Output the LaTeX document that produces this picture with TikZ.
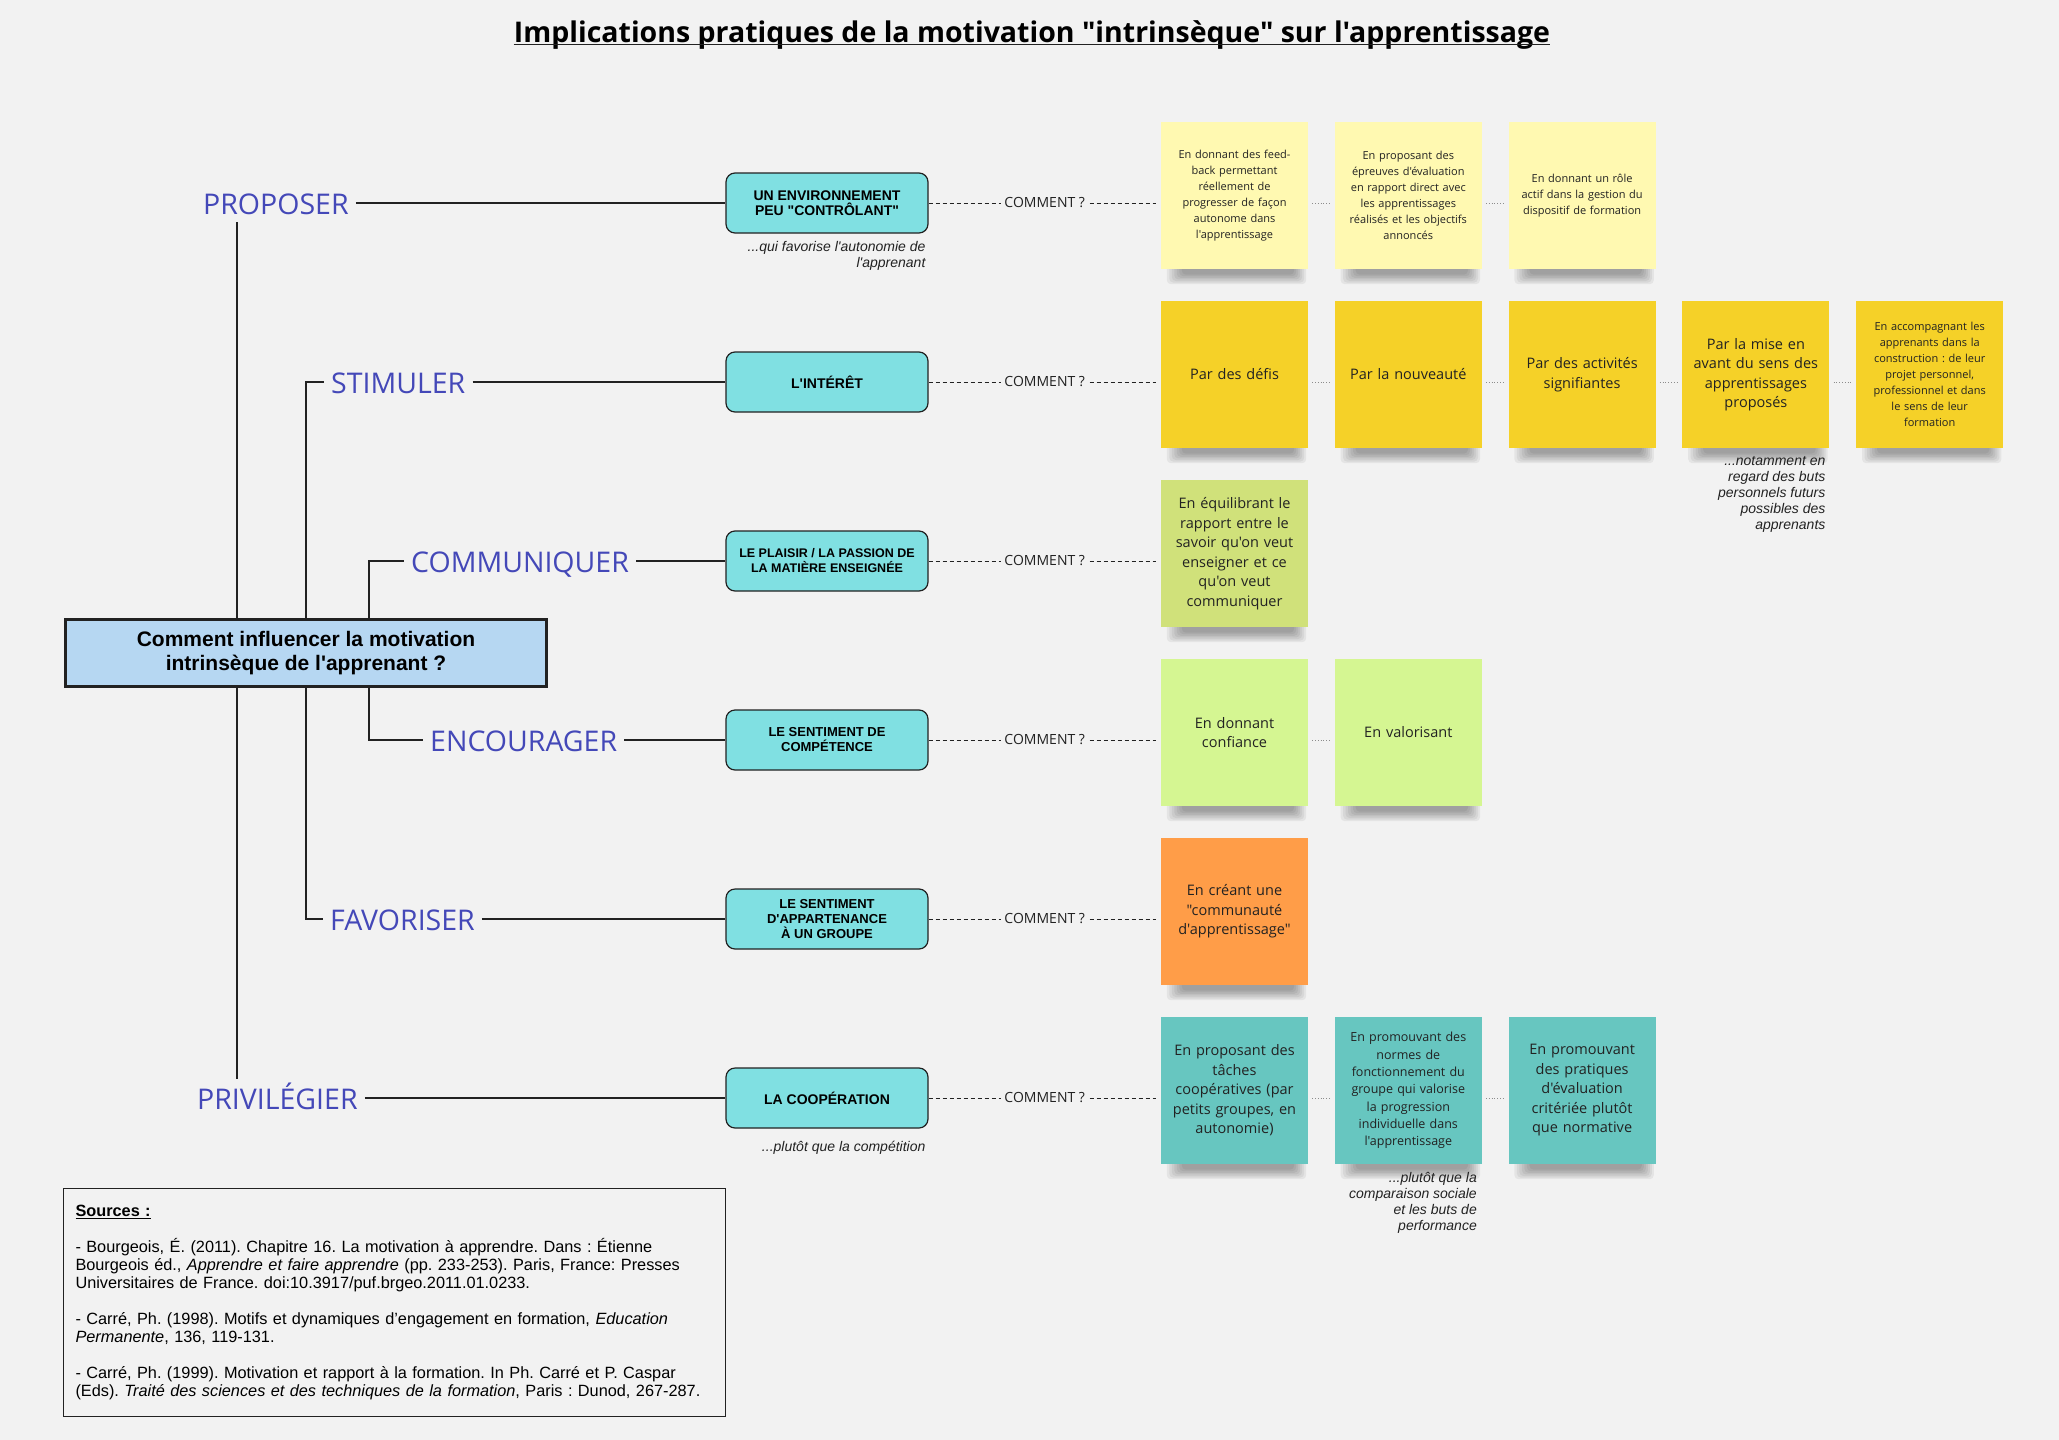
\documentclass[tikz,border=0pt]{standalone}
\usepackage{fontspec}
\setmainfont{Open Sans}[Ligatures=TeXOff]
\newfontfamily\arialfont{Liberation Sans}[Ligatures=TeXOff]
\usetikzlibrary{positioning}

\definecolor{paper}{RGB}{242,242,242}
\definecolor{ink}{RGB}{34,34,34}
\definecolor{verbblue}{RGB}{68,72,184}
\definecolor{themecyan}{RGB}{128,224,226}
\definecolor{questionblue}{RGB}{182,215,242}
\definecolor{notepale}{RGB}{255,249,177}
\definecolor{noteyellow}{RGB}{245,209,40}
\definecolor{notelime}{RGB}{208,225,122}
\definecolor{notegreen}{RGB}{213,246,146}
\definecolor{noteorange}{RGB}{255,157,72}
\definecolor{noteteal}{RGB}{103,198,192}

\pgfdeclarelayer{paperlayer}
\pgfdeclarelayer{shadowlayer}
\pgfsetlayers{paperlayer,shadowlayer,main}

\frenchspacing

\begin{document}
\begin{tikzpicture}[x=1pt, y=-1pt,
	verb/.style={anchor=west, text=verbblue, font=\fontsize{28.5}{34}\selectfont,
		inner xsep=7pt, inner ysep=4pt, text height=26pt, text depth=4pt},
	branch/.style={draw=ink, line width=1.2pt},
	theme/.style={draw=ink, line width=1.2pt, fill=themecyan, rounded corners=9pt,
		minimum width=202pt, minimum height=60pt, align=center, inner sep=2pt,
		font=\arialfont\bfseries\fontsize{14}{15}\selectfont},
	note/.style={fill=#1, minimum width=147pt, minimum height=147pt,
		inner sep=0pt, text width=140pt, align=center, text=ink,
		font=\fontsize{14.5}{19.5}\selectfont},
	small/.style={font=\fontsize{11}{16}\selectfont},
	ask/.style={fill=paper, inner xsep=3pt, inner ysep=1pt, text=ink,
		font=\fontsize{14}{16}\selectfont},
	how/.style={draw=ink, line width=1pt, dash pattern=on 4pt off 3pt, shorten >=5pt},
	link/.style={draw=black!45, line width=.8pt, dotted, shorten >=4pt, shorten <=4pt},
	aside/.style={align=right, inner sep=0pt, text=ink,
		font=\arialfont\itshape\fontsize{14}{16}\selectfont},
]
	% page
	\begin{pgfonlayer}{paperlayer}
	\path[use as bounding box, fill=paper] (0,0) rectangle (2059,1440);
	\end{pgfonlayer}

	% Title
	\node[inner sep=0pt, anchor=base, font=\bfseries\fontsize{28.5}{34}\selectfont] (title) at (1032,42)
		{Implications pratiques de la motivation "intrinsèque" sur l'apprentissage};
	\draw[ink, line width=1.8pt] ([yshift=-2.5pt]title.base west) -- ([yshift=-2.5pt]title.base east);

	% Tree on the left
	\coordinate (tA) at (237,0);
	\coordinate (tB) at (306,0);
	\coordinate (tC) at (369,0);
	\node[verb] (proposer) at (196,203) {PROPOSER};
	\node[verb] (stimuler) at (324,382) {STIMULER};
	\node[verb] (communiquer) at (404,561) {COMMUNIQUER};
	\node[verb] (encourager) at (423,740) {ENCOURAGER};
	\node[verb] (favoriser) at (323,919) {FAVORISER};
	\node[verb] (privilegier) at (190,1098) {PRIVILÉGIER};

	% Central question
	\node[draw=ink, line width=3pt, fill=questionblue, minimum width=481pt, minimum height=67pt,
		align=center, font=\arialfont\bfseries\fontsize{21}{24}\selectfont] (centre) at (306,653)
		{Comment influencer la motivation\\intrinsèque de l'apprenant ?};

	% Themes
	\node[theme] (b1) at (827,203) {UN ENVIRONNEMENT\\PEU "CONTRÔLANT"};
	\node[theme] (b2) at (827,382) {L'INTÉRÊT};
	\node[theme, font=\arialfont\bfseries\fontsize{12.5}{15}\selectfont] (b3) at (827,561) {LE PLAISIR / LA PASSION DE\\LA MATIÈRE ENSEIGNÉE};
	\node[theme, font=\arialfont\bfseries\fontsize{13}{15}\selectfont] (b4) at (827,740) {LE SENTIMENT DE\\COMPÉTENCE};
	\node[theme, font=\arialfont\bfseries\fontsize{13}{15}\selectfont] (b5) at (827,919) {LE SENTIMENT\\D'APPARTENANCE\\À UN GROUPE};
	\node[theme] (b6) at (827,1098) {LA COOPÉRATION};

	% Sticky notes
	%Row 1
	\node[note=notepale, small] (n11) at (1234.5,195.5) {En donnant des feed-\\back permettant\\réellement de\\progresser de façon\\autonome dans\\l'apprentissage};
	\node[note=notepale, small] (n12) at (1408.3,195.5) {En proposant des\\épreuves d'évaluation\\en rapport direct avec\\les apprentissages\\réalisés et les objectifs\\annoncés};
	\node[note=notepale, small] (n13) at (1582.1,195.5) {En donnant un rôle\\actif dans la gestion du\\dispositif de formation};
	%Row 2
	\node[note=noteyellow] (n21) at (1234.5,374.5) {Par des défis};
	\node[note=noteyellow] (n22) at (1408.3,374.5) {Par la nouveauté};
	\node[note=noteyellow] (n23) at (1582.1,374.5) {Par des activités\\signifiantes};
	\node[note=noteyellow] (n24) at (1755.9,374.5) {Par la mise en\\avant du sens des\\apprentissages\\proposés};
	\node[note=noteyellow, small] (n25) at (1929.7,374.5) {En accompagnant les\\apprenants dans la\\construction : de leur\\projet personnel,\\professionnel et dans\\le sens de leur\\formation};
	%Row 3
	\node[note=notelime] (n31) at (1234.5,553.5) {En équilibrant le\\rapport entre le\\savoir qu'on veut\\enseigner et ce\\qu'on veut\\communiquer};
	%Row 4
	\node[note=notegreen] (n41) at (1234.5,732.5) {En donnant\\confiance};
	\node[note=notegreen] (n42) at (1408.3,732.5) {En valorisant};
	%Row 5
	\node[note=noteorange] (n51) at (1234.5,911.5) {En créant une\\"communauté\\d'apprentissage"};
	%Row 6
	\node[note=noteteal] (n61) at (1234.5,1090.5) {En proposant des\\tâches\\coopératives (par\\petits groupes, en\\autonomie)};
	\node[note=noteteal, font=\fontsize{12.5}{17.3}\selectfont] (n62) at (1408.3,1090.5) {En promouvant des\\normes de\\fonctionnement du\\groupe qui valorise\\la progression\\individuelle dans\\l'apprentissage};
	\node[note=noteteal] (n63) at (1582.1,1090.5) {En promouvant\\des pratiques\\d'évaluation\\critériée plutôt\\que normative};

	% shadows under the notes
	\begin{pgfonlayer}{shadowlayer}
	\foreach \n in {n11,n12,n13,n21,n22,n23,n24,n25,n31,n41,n42,n51,n61,n62,n63} {
		\foreach \k in {0,...,6} {
			\fill[black, opacity=.055, rounded corners=4pt]
				([xshift=6pt+2.5*\k pt, yshift=4pt]\n.south west) rectangle ([xshift=-2pt-2*\k pt, yshift=-15pt+1.6*\k pt]\n.south east);
		}
	}
	\end{pgfonlayer}

	% Tree lines
	\draw[branch] (proposer.south -| tA) -- (centre.north -| tA);
	\draw[branch] (centre.south -| tA) -- (privilegier.north -| tA);
	\draw[branch] (centre.north -| tB) |- (stimuler.west);
	\draw[branch] (centre.south -| tB) |- (favoriser.west);
	\draw[branch] (centre.north -| tC) |- (communiquer.west);
	\draw[branch] (centre.south -| tC) |- (encourager.west);
	% redraw the frame over the line ends
	\node[draw=ink, line width=3pt, minimum width=481pt, minimum height=67pt] at (centre) {};

	% Verbs to themes
	\draw[branch] (proposer.east) -- (b1.west);
	\draw[branch] (stimuler.east) -- (b2.west);
	\draw[branch] (communiquer.east) -- (b3.west);
	\draw[branch] (encourager.east) -- (b4.west);
	\draw[branch] (favoriser.east) -- (b5.west);
	\draw[branch] (privilegier.east) -- (b6.west);

	% COMMENT ?
	\draw[how] (b1.east) -- node[ask] {COMMENT ?} (b1.east -| n11.west);
	\draw[how] (b2.east) -- node[ask] {COMMENT ?} (b2.east -| n21.west);
	\draw[how] (b3.east) -- node[ask] {COMMENT ?} (b3.east -| n31.west);
	\draw[how] (b4.east) -- node[ask] {COMMENT ?} (b4.east -| n41.west);
	\draw[how] (b5.east) -- node[ask] {COMMENT ?} (b5.east -| n51.west);
	\draw[how] (b6.east) -- node[ask] {COMMENT ?} (b6.east -| n61.west);

	% dotted links between notes
	\draw[link] (n11.east |- b1.east) -- (n12.west |- b1.east);
	\draw[link] (n12.east |- b1.east) -- (n13.west |- b1.east);
	\draw[link] (n21.east |- b2.east) -- (n22.west |- b2.east);
	\draw[link] (n22.east |- b2.east) -- (n23.west |- b2.east);
	\draw[link] (n23.east |- b2.east) -- (n24.west |- b2.east);
	\draw[link] (n24.east |- b2.east) -- (n25.west |- b2.east);
	\draw[link] (n41.east |- b4.east) -- (n42.west |- b4.east);
	\draw[link] (n61.east |- b6.east) -- (n62.west |- b6.east);
	\draw[link] (n62.east |- b6.east) -- (n63.west |- b6.east);

	% Side remarks
	\node[aside, below left=8pt and 3pt of b1.south east] (a1) {...qui favorise l'autonomie de\\l'apprenant};
	\node[aside, below left=12pt and 3pt of b6.south east] (a6) {...plutôt que la compétition};
	\node[aside, below left=8pt and 4pt of n24.south east] (a24) {...notamment en\\regard des buts\\personnels futurs\\possibles des\\apprenants};
	\node[aside, below left=8pt and 5pt of n62.south east] (a62) {...plutôt que la\\comparaison sociale\\et les buts de\\performance};

	% Sources
	\node[draw=ink, line width=1pt, anchor=north west, minimum height=228pt, text width=638pt,
		inner xsep=12pt, align=left, font=\arialfont\fontsize{16.3}{18}\selectfont] (sources) at (63,1188)
		{\textbf{\underline{Sources :}}\\[18pt]
		- Bourgeois, É. (2011). Chapitre 16. La motivation à apprendre. Dans : Étienne\\
		Bourgeois éd., \textit{Apprendre et faire apprendre} (pp. 233-253). Paris, France: Presses\\
		Universitaires de France. doi:10.3917/puf.brgeo.2011.01.0233.\\[18pt]
		- Carré, Ph. (1998). Motifs et dynamiques d’engagement en formation, \textit{Education}\\
		\textit{Permanente}, 136, 119-131.\\[18pt]
		- Carré, Ph. (1999). Motivation et rapport à la formation. In Ph. Carré et P. Caspar\\
		(Eds). \textit{Traité des sciences et des techniques de la formation}, Paris : Dunod, 267-287.};
\end{tikzpicture}
\end{document}
